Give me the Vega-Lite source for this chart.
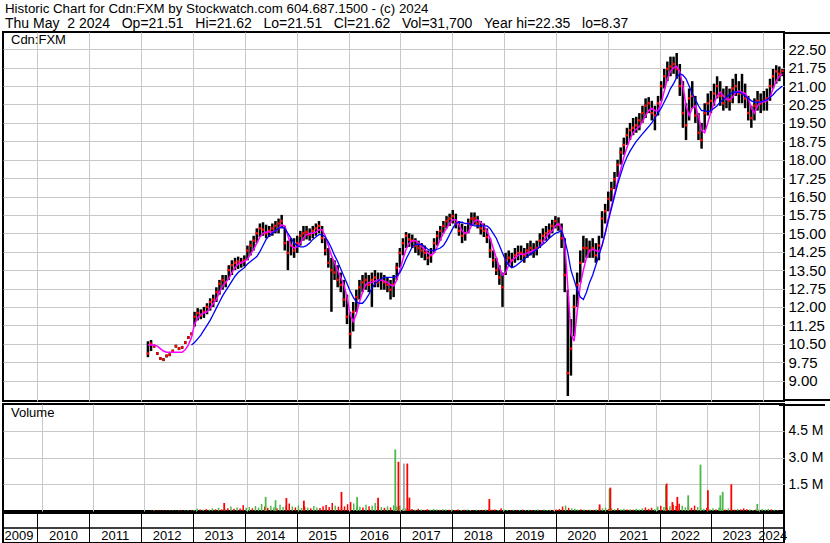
{
  "$schema": "https://vega.github.io/schema/vega-lite/v6.json",
  "padding": {"left": 1, "top": 1, "right": 0, "bottom": 0},
  "background": "white",
  "spacing": 0,
  "title": {
    "text": "Historic Chart for Cdn:FXM by Stockwatch.com 604.687.1500 - (c) 2024",
    "subtitle": "Thu May\u00a0\u00a02 2024\u00a0\u00a0\u00a0Op=21.51\u00a0\u00a0\u00a0Hi=21.62\u00a0\u00a0\u00a0Lo=21.51\u00a0\u00a0\u00a0Cl=21.62\u00a0\u00a0\u00a0Vol=31,700\u00a0\u00a0\u00a0Year hi=22.35\u00a0\u00a0\u00a0lo=8.37",
    "anchor": "start", "frame": "group", "fontSize": 13.3, "fontWeight": "normal", "font": "Liberation Sans",
    "subtitleFontSize": 14, "subtitleFont": "Liberation Sans", "subtitleColor": "black", "subtitlePadding": 2,
    "offset": 0, "dx": 2, "color": "black"
  },
  "datasets": {
    "px": [
      {"t":2012.13,"h":10.6,"l":9.95,"c":10.1,"m":10.45,"v":30000,"k":"d"},
      {"t":2012.19,"h":10.65,"l":10.2,"c":10.5,"m":10.45,"v":45000,"k":"u"},
      {"t":2012.25,"h":10.46,"l":10.34,"c":10.4,"m":10.45,"v":25000,"k":"d"},
      {"t":2012.31,"h":10.16,"l":10.04,"c":10.1,"m":10.4,"v":35000,"k":"d"},
      {"t":2012.37,"h":9.96,"l":9.84,"c":9.9,"m":10.3,"v":20000,"k":"u"},
      {"t":2012.43,"h":9.91,"l":9.79,"c":9.85,"m":10.2,"v":40000,"k":"d"},
      {"t":2012.49,"h":10.06,"l":9.94,"c":10.0,"m":10.15,"v":25000,"k":"u"},
      {"t":2012.55,"h":10.11,"l":9.99,"c":10.05,"m":10.15,"v":30000,"k":"u"},
      {"t":2012.61,"h":10.26,"l":10.14,"c":10.2,"m":10.15,"v":20000,"k":"d"},
      {"t":2012.67,"h":10.46,"l":10.34,"c":10.4,"m":10.15,"v":35000,"k":"u"},
      {"t":2012.73,"h":10.36,"l":10.24,"c":10.3,"m":10.15,"v":25000,"k":"d"},
      {"t":2012.79,"h":10.41,"l":10.29,"c":10.35,"m":10.15,"v":30000,"k":"u"},
      {"t":2012.85,"h":10.61,"l":10.49,"c":10.55,"m":10.25,"v":40000,"k":"u"},
      {"t":2012.91,"h":10.81,"l":10.69,"c":10.75,"m":10.45,"v":35000,"k":"d"},
      {"t":2012.97,"h":10.96,"l":10.84,"c":10.9,"m":10.75,"b":10.45,"v":50000,"k":"u"},
      {"t":2013.03,"h":11.8,"l":11.2,"c":11.6,"m":11.3,"b":10.55,"v":120000,"k":"u"},
      {"t":2013.09,"h":11.95,"l":11.45,"c":11.75,"m":11.55,"b":10.7,"v":90000,"k":"d"},
      {"t":2013.15,"h":11.9,"l":11.5,"c":11.65,"m":11.7,"b":10.85,"v":70000,"k":"u"},
      {"t":2013.21,"h":12.0,"l":11.55,"c":11.8,"m":11.75,"b":11.05,"v":110000,"k":"d"},
      {"t":2013.27,"h":12.15,"l":11.7,"c":12.0,"m":11.8,"b":11.25,"v":80000,"k":"u"},
      {"t":2013.33,"h":12.35,"l":11.85,"c":12.2,"m":11.95,"b":11.45,"v":150000,"k":"u"},
      {"t":2013.39,"h":12.5,"l":12.0,"c":12.3,"m":12.15,"b":11.7,"v":100000,"k":"d"},
      {"t":2013.45,"h":12.8,"l":12.2,"c":12.6,"m":12.3,"b":11.95,"v":180000,"k":"u"},
      {"t":2013.51,"h":13.1,"l":12.5,"c":12.95,"m":12.6,"b":12.2,"v":90000,"k":"d"},
      {"t":2013.57,"h":13.3,"l":12.7,"c":13.1,"m":12.85,"b":12.45,"v":130000,"k":"u"},
      {"t":2013.63,"h":13.3,"l":12.8,"c":13.0,"m":13.0,"b":12.65,"v":160000,"k":"d"},
      {"t":2013.69,"h":13.7,"l":13.1,"c":13.5,"m":13.15,"b":12.85,"v":250000,"k":"u"},
      {"t":2013.75,"h":13.9,"l":13.3,"c":13.7,"m":13.4,"b":13.05,"v":120000,"k":"d"},
      {"t":2013.81,"h":14.0,"l":13.5,"c":13.8,"m":13.6,"b":13.25,"v":200000,"k":"u"},
      {"t":2013.87,"h":14.05,"l":13.55,"c":13.85,"m":13.75,"b":13.4,"v":140000,"k":"d"},
      {"t":2013.93,"h":14.0,"l":13.6,"c":13.8,"m":13.8,"b":13.5,"v":320000,"k":"d"},
      {"t":2013.99,"h":14.1,"l":13.65,"c":13.9,"m":13.85,"b":13.6,"v":180000,"k":"u"},
      {"t":2014.05,"h":14.5,"l":13.9,"c":14.3,"m":13.95,"b":13.75,"v":220000,"k":"u"},
      {"t":2014.11,"h":14.7,"l":14.1,"c":14.5,"m":14.15,"b":13.85,"v":150000,"k":"d"},
      {"t":2014.17,"h":14.9,"l":14.3,"c":14.7,"m":14.35,"b":13.95,"v":280000,"k":"u"},
      {"t":2014.23,"h":15.2,"l":14.6,"c":15.0,"m":14.6,"b":14.05,"v":190000,"k":"u"},
      {"t":2014.29,"h":15.4,"l":14.85,"c":15.2,"m":14.85,"b":14.25,"v":400000,"k":"u"},
      {"t":2014.35,"h":15.45,"l":14.9,"c":15.15,"m":15.0,"b":14.5,"v":250000,"k":"d"},
      {"t":2014.41,"h":15.35,"l":14.8,"c":15.0,"m":15.05,"b":14.75,"v":180000,"k":"d"},
      {"t":2014.47,"h":15.3,"l":14.85,"c":15.1,"m":15.05,"b":14.9,"v":300000,"k":"u"},
      {"t":2014.53,"h":15.4,"l":14.9,"c":15.2,"m":15.05,"b":15.0,"v":210000,"k":"u"},
      {"t":2014.59,"h":15.5,"l":15.0,"c":15.3,"m":15.1,"b":15.1,"v":160000,"k":"d"},
      {"t":2014.65,"h":15.6,"l":15.0,"c":15.4,"m":15.2,"b":15.2,"v":350000,"k":"u"},
      {"t":2014.71,"h":15.75,"l":15.2,"c":15.5,"m":15.35,"b":15.25,"v":230000,"k":"u"},
      {"t":2014.77,"h":15.3,"l":14.3,"c":14.6,"m":15.3,"b":15.2,"v":300000,"k":"d"},
      {"t":2014.83,"h":14.7,"l":13.5,"c":14.2,"m":14.9,"b":15.0,"v":420000,"k":"d"},
      {"t":2014.89,"h":14.8,"l":14.1,"c":14.5,"m":14.5,"b":14.8,"v":260000,"k":"u"},
      {"t":2014.95,"h":14.8,"l":14.0,"c":14.3,"m":14.4,"b":14.6,"v":200000,"k":"d"},
      {"t":2015.01,"h":14.9,"l":14.2,"c":14.6,"m":14.45,"b":14.5,"v":310000,"k":"u"},
      {"t":2015.07,"h":15.1,"l":14.5,"c":14.9,"m":14.6,"b":14.45,"v":170000,"k":"u"},
      {"t":2015.13,"h":15.3,"l":14.7,"c":15.0,"m":14.8,"b":14.45,"v":240000,"k":"d"},
      {"t":2015.19,"h":15.3,"l":14.75,"c":15.05,"m":14.95,"b":14.5,"v":190000,"k":"u"},
      {"t":2015.25,"h":15.2,"l":14.7,"c":14.95,"m":15.0,"b":14.6,"v":150000,"k":"d"},
      {"t":2015.31,"h":15.3,"l":14.8,"c":15.1,"m":15.0,"b":14.75,"v":280000,"k":"u"},
      {"t":2015.37,"h":15.4,"l":14.9,"c":15.2,"m":15.05,"b":14.85,"v":200000,"k":"u"},
      {"t":2015.43,"h":15.5,"l":15.0,"c":15.3,"m":15.15,"b":14.95,"v":170000,"k":"d"},
      {"t":2015.49,"h":15.3,"l":14.6,"c":14.8,"m":15.15,"b":14.95,"v":260000,"k":"d"},
      {"t":2015.55,"h":14.8,"l":14.1,"c":14.3,"m":14.9,"b":14.85,"v":340000,"k":"d"},
      {"t":2015.61,"h":14.4,"l":13.6,"c":13.8,"m":14.5,"b":14.65,"v":220000,"k":"d"},
      {"t":2015.67,"h":14.0,"l":11.8,"c":13.5,"m":14.1,"b":14.4,"v":450000,"k":"d"},
      {"t":2015.73,"h":13.9,"l":13.1,"c":13.4,"m":13.8,"b":14.1,"v":300000,"k":"u"},
      {"t":2015.79,"h":13.7,"l":12.8,"c":13.1,"m":13.5,"b":13.85,"v":240000,"k":"d"},
      {"t":2015.85,"h":13.4,"l":12.6,"c":12.9,"m":13.2,"b":13.55,"v":180000,"k":"u"},
      {"t":2015.91,"h":13.1,"l":12.0,"c":12.3,"m":12.9,"b":13.25,"v":260000,"k":"d"},
      {"t":2015.97,"h":12.5,"l":11.3,"c":11.6,"m":12.4,"b":12.95,"v":380000,"k":"d"},
      {"t":2016.03,"h":11.8,"l":10.3,"c":10.9,"m":11.7,"b":12.65,"v":500000,"k":"d"},
      {"t":2016.09,"h":12.2,"l":11.0,"c":11.8,"m":11.4,"b":12.4,"v":420000,"k":"u"},
      {"t":2016.15,"h":12.7,"l":11.8,"c":12.4,"m":11.7,"b":12.2,"v":300000,"k":"u"},
      {"t":2016.21,"h":13.1,"l":12.3,"c":12.8,"m":12.2,"b":12.15,"v":240000,"k":"u"},
      {"t":2016.27,"h":13.3,"l":12.6,"c":13.0,"m":12.6,"b":12.15,"v":200000,"k":"d"},
      {"t":2016.33,"h":13.4,"l":12.7,"c":13.1,"m":12.9,"b":12.3,"v":350000,"k":"u"},
      {"t":2016.39,"h":13.3,"l":12.6,"c":12.9,"m":13.0,"b":12.5,"v":260000,"k":"d"},
      {"t":2016.45,"h":13.4,"l":12.0,"c":13.1,"m":13.0,"b":12.75,"v":300000,"k":"u"},
      {"t":2016.51,"h":13.5,"l":12.8,"c":13.2,"m":13.05,"b":12.95,"v":450000,"k":"u"},
      {"t":2016.57,"h":13.4,"l":12.8,"c":13.0,"m":13.1,"b":13.05,"v":280000,"k":"d"},
      {"t":2016.63,"h":13.4,"l":12.7,"c":13.1,"m":13.1,"b":13.15,"v":220000,"k":"u"},
      {"t":2016.69,"h":13.3,"l":12.7,"c":13.0,"m":13.05,"b":13.2,"v":180000,"k":"d"},
      {"t":2016.75,"h":13.2,"l":12.6,"c":12.9,"m":13.0,"b":13.2,"v":260000,"k":"u"},
      {"t":2016.81,"h":13.1,"l":12.3,"c":12.7,"m":12.9,"b":13.2,"v":200000,"k":"d"},
      {"t":2016.87,"h":13.3,"l":12.4,"c":12.9,"m":12.85,"b":13.2,"v":320000,"k":"u"},
      {"t":2016.93,"h":13.8,"l":13.1,"c":13.6,"m":13.1,"b":13.25,"v":250000,"k":"u"},
      {"t":2016.99,"h":14.4,"l":13.6,"c":14.2,"m":13.5,"b":13.4,"v":300000,"k":"u"},
      {"t":2017.05,"h":14.8,"l":14.1,"c":14.6,"m":13.95,"b":13.65,"v":120000,"k":"u"},
      {"t":2017.11,"h":15.05,"l":14.4,"c":14.9,"m":14.35,"b":13.95,"v":150000,"k":"u"},
      {"t":2017.17,"h":15.0,"l":14.45,"c":14.75,"m":14.6,"b":14.2,"v":90000,"k":"d"},
      {"t":2017.23,"h":14.95,"l":14.4,"c":14.7,"m":14.7,"b":14.45,"v":110000,"k":"d"},
      {"t":2017.29,"h":14.8,"l":14.2,"c":14.5,"m":14.7,"b":14.55,"v":70000,"k":"u"},
      {"t":2017.35,"h":14.7,"l":14.1,"c":14.4,"m":14.6,"b":14.55,"v":130000,"k":"d"},
      {"t":2017.41,"h":14.6,"l":14.0,"c":14.3,"m":14.45,"b":14.55,"v":80000,"k":"u"},
      {"t":2017.47,"h":14.5,"l":13.9,"c":14.2,"m":14.35,"b":14.45,"v":60000,"k":"d"},
      {"t":2017.53,"h":14.3,"l":13.7,"c":14.0,"m":14.2,"b":14.35,"v":100000,"k":"d"},
      {"t":2017.59,"h":14.4,"l":13.8,"c":14.1,"m":14.1,"b":14.3,"v":70000,"k":"u"},
      {"t":2017.65,"h":14.8,"l":14.2,"c":14.6,"m":14.2,"b":14.3,"v":120000,"k":"u"},
      {"t":2017.71,"h":15.1,"l":14.5,"c":14.9,"m":14.45,"b":14.35,"v":90000,"k":"u"},
      {"t":2017.77,"h":15.3,"l":14.7,"c":15.1,"m":14.75,"b":14.4,"v":60000,"k":"d"},
      {"t":2017.83,"h":15.5,"l":15.0,"c":15.3,"m":15.0,"b":14.5,"v":100000,"k":"u"},
      {"t":2017.89,"h":15.7,"l":15.2,"c":15.5,"m":15.2,"b":14.7,"v":80000,"k":"u"},
      {"t":2017.95,"h":15.8,"l":15.3,"c":15.6,"m":15.4,"b":14.95,"v":70000,"k":"d"},
      {"t":2018.01,"h":15.95,"l":15.4,"c":15.7,"m":15.55,"b":15.2,"v":90000,"k":"u"},
      {"t":2018.07,"h":15.8,"l":15.2,"c":15.4,"m":15.55,"b":15.4,"v":60000,"k":"d"},
      {"t":2018.13,"h":15.5,"l":14.9,"c":15.1,"m":15.35,"b":15.45,"v":80000,"k":"d"},
      {"t":2018.19,"h":15.4,"l":14.6,"c":14.9,"m":15.1,"b":15.45,"v":50000,"k":"u"},
      {"t":2018.25,"h":15.3,"l":14.7,"c":15.0,"m":15.0,"b":15.4,"v":70000,"k":"d"},
      {"t":2018.31,"h":15.6,"l":15.0,"c":15.4,"m":15.05,"b":15.4,"v":90000,"k":"u"},
      {"t":2018.37,"h":15.85,"l":15.3,"c":15.6,"m":15.3,"b":15.35,"v":60000,"k":"u"},
      {"t":2018.43,"h":15.85,"l":15.35,"c":15.6,"m":15.5,"b":15.3,"v":40000,"k":"d"},
      {"t":2018.49,"h":15.7,"l":15.2,"c":15.4,"m":15.55,"b":15.3,"v":70000,"k":"u"},
      {"t":2018.55,"h":15.5,"l":14.95,"c":15.2,"m":15.45,"b":15.3,"v":50000,"k":"d"},
      {"t":2018.61,"h":15.4,"l":14.85,"c":15.1,"m":15.3,"b":15.3,"v":60000,"k":"d"},
      {"t":2018.67,"h":15.2,"l":14.6,"c":14.85,"m":15.1,"b":15.3,"v":80000,"k":"u"},
      {"t":2018.73,"h":14.8,"l":14.0,"c":14.3,"m":14.8,"b":15.2,"v":100000,"k":"d"},
      {"t":2018.79,"h":14.3,"l":13.6,"c":13.9,"m":14.4,"b":15.0,"v":70000,"k":"d"},
      {"t":2018.85,"h":14.0,"l":13.3,"c":13.5,"m":14.0,"b":14.8,"v":90000,"k":"d"},
      {"t":2018.91,"h":13.7,"l":12.9,"c":13.2,"m":13.6,"b":14.5,"v":60000,"k":"u"},
      {"t":2018.97,"h":13.4,"l":12.0,"c":12.8,"m":13.3,"b":14.2,"v":150000,"k":"d"},
      {"t":2019.03,"h":14.2,"l":13.3,"c":13.9,"m":13.4,"b":13.9,"v":80000,"k":"u"},
      {"t":2019.09,"h":14.3,"l":13.7,"c":14.0,"m":13.7,"b":13.7,"v":60000,"k":"u"},
      {"t":2019.15,"h":14.2,"l":13.6,"c":13.9,"m":13.9,"b":13.6,"v":50000,"k":"d"},
      {"t":2019.21,"h":14.4,"l":13.8,"c":14.1,"m":14.0,"b":13.65,"v":70000,"k":"u"},
      {"t":2019.27,"h":14.5,"l":13.9,"c":14.2,"m":14.1,"b":13.75,"v":40000,"k":"d"},
      {"t":2019.33,"h":14.5,"l":13.9,"c":14.2,"m":14.15,"b":13.85,"v":60000,"k":"u"},
      {"t":2019.39,"h":14.4,"l":13.8,"c":14.1,"m":14.15,"b":13.95,"v":80000,"k":"d"},
      {"t":2019.45,"h":14.6,"l":14.0,"c":14.3,"m":14.2,"b":14.05,"v":50000,"k":"u"},
      {"t":2019.51,"h":14.7,"l":14.1,"c":14.4,"m":14.25,"b":14.15,"v":70000,"k":"u"},
      {"t":2019.57,"h":14.6,"l":14.0,"c":14.3,"m":14.3,"b":14.25,"v":60000,"k":"d"},
      {"t":2019.63,"h":14.7,"l":14.1,"c":14.4,"m":14.35,"b":14.35,"v":40000,"k":"u"},
      {"t":2019.69,"h":15.0,"l":14.4,"c":14.7,"m":14.45,"b":14.45,"v":80000,"k":"u"},
      {"t":2019.75,"h":15.2,"l":14.6,"c":14.9,"m":14.65,"b":14.55,"v":60000,"k":"d"},
      {"t":2019.81,"h":15.3,"l":14.7,"c":15.0,"m":14.85,"b":14.65,"v":90000,"k":"u"},
      {"t":2019.87,"h":15.4,"l":14.8,"c":15.1,"m":15.0,"b":14.8,"v":50000,"k":"u"},
      {"t":2019.93,"h":15.55,"l":15.0,"c":15.3,"m":15.1,"b":14.9,"v":70000,"k":"u"},
      {"t":2019.99,"h":15.7,"l":15.2,"c":15.5,"m":15.3,"b":15.0,"v":60000,"k":"d"},
      {"t":2020.05,"h":15.65,"l":15.1,"c":15.35,"m":15.4,"b":15.05,"v":80000,"k":"d"},
      {"t":2020.11,"h":15.4,"l":14.4,"c":14.8,"m":15.2,"b":15.1,"v":120000,"k":"d"},
      {"t":2020.17,"h":14.8,"l":12.6,"c":13.3,"m":14.6,"b":14.75,"v":250000,"k":"d"},
      {"t":2020.23,"h":12.7,"l":8.37,"c":9.3,"m":12.8,"b":14.2,"v":300000,"k":"u"},
      {"t":2020.29,"h":11.5,"l":9.2,"c":10.3,"m":10.9,"b":13.5,"v":180000,"k":"d"},
      {"t":2020.35,"h":12.5,"l":10.8,"c":12.0,"m":10.6,"b":13.1,"v":150000,"k":"u"},
      {"t":2020.41,"h":13.4,"l":12.0,"c":12.9,"m":11.8,"b":12.7,"v":120000,"k":"u"},
      {"t":2020.47,"h":14.3,"l":13.0,"c":13.8,"m":12.9,"b":12.4,"v":90000,"k":"u"},
      {"t":2020.53,"h":14.9,"l":13.8,"c":14.4,"m":13.5,"b":12.3,"v":100000,"k":"d"},
      {"t":2020.59,"h":14.8,"l":14.0,"c":14.4,"m":14.0,"b":12.6,"v":80000,"k":"u"},
      {"t":2020.65,"h":14.7,"l":14.0,"c":14.3,"m":14.3,"b":13.0,"v":60000,"k":"d"},
      {"t":2020.71,"h":14.8,"l":14.0,"c":14.4,"m":14.35,"b":13.3,"v":70000,"k":"u"},
      {"t":2020.77,"h":14.6,"l":13.8,"c":14.1,"m":14.3,"b":13.7,"v":60000,"k":"d"},
      {"t":2020.83,"h":14.9,"l":13.9,"c":14.5,"m":14.25,"b":14.1,"v":90000,"k":"u"},
      {"t":2020.89,"h":15.9,"l":14.8,"c":15.6,"m":14.5,"b":14.5,"v":200000,"k":"u"},
      {"t":2020.95,"h":16.2,"l":15.4,"c":15.9,"m":15.0,"b":15.0,"v":150000,"k":"u"},
      {"t":2021.01,"h":16.7,"l":15.9,"c":16.4,"m":15.6,"b":15.5,"v":180000,"k":"u"},
      {"t":2021.07,"h":17.1,"l":16.3,"c":16.8,"m":16.1,"b":16.0,"v":120000,"k":"d"},
      {"t":2021.13,"h":17.5,"l":16.8,"c":17.2,"m":16.6,"b":16.5,"v":140000,"k":"u"},
      {"t":2021.19,"h":18.0,"l":17.3,"c":17.8,"m":17.1,"b":17.0,"v":100000,"k":"u"},
      {"t":2021.25,"h":18.5,"l":17.8,"c":18.3,"m":17.6,"b":17.4,"v":160000,"k":"d"},
      {"t":2021.31,"h":18.9,"l":18.2,"c":18.6,"m":18.1,"b":17.8,"v":90000,"k":"u"},
      {"t":2021.37,"h":19.3,"l":18.6,"c":19.0,"m":18.5,"b":18.1,"v":120000,"k":"u"},
      {"t":2021.43,"h":19.5,"l":18.8,"c":19.2,"m":18.85,"b":18.35,"v":80000,"k":"d"},
      {"t":2021.49,"h":19.7,"l":19.0,"c":19.3,"m":19.1,"b":18.55,"v":100000,"k":"u"},
      {"t":2021.55,"h":19.75,"l":19.1,"c":19.4,"m":19.25,"b":18.75,"v":70000,"k":"d"},
      {"t":2021.61,"h":19.9,"l":19.2,"c":19.6,"m":19.35,"b":18.9,"v":130000,"k":"u"},
      {"t":2021.67,"h":20.2,"l":19.5,"c":19.9,"m":19.55,"b":19.05,"v":90000,"k":"u"},
      {"t":2021.73,"h":20.5,"l":19.7,"c":20.2,"m":19.8,"b":19.2,"v":150000,"k":"u"},
      {"t":2021.79,"h":20.55,"l":19.9,"c":20.3,"m":20.0,"b":19.35,"v":200000,"k":"d"},
      {"t":2021.85,"h":20.4,"l":19.6,"c":19.9,"m":20.1,"b":19.5,"v":120000,"k":"d"},
      {"t":2021.91,"h":20.2,"l":19.2,"c":19.8,"m":20.0,"b":19.7,"v":180000,"k":"d"},
      {"t":2021.97,"h":20.6,"l":19.8,"c":20.3,"m":20.0,"b":19.9,"v":110000,"k":"u"},
      {"t":2022.03,"h":21.2,"l":20.4,"c":21.0,"m":20.3,"b":20.1,"v":250000,"k":"u"},
      {"t":2022.09,"h":21.7,"l":20.9,"c":21.4,"m":20.8,"b":20.35,"v":300000,"k":"d"},
      {"t":2022.15,"h":22.0,"l":21.2,"c":21.7,"m":21.3,"b":20.6,"v":220000,"k":"u"},
      {"t":2022.21,"h":22.2,"l":21.4,"c":21.8,"m":21.6,"b":20.9,"v":180000,"k":"d"},
      {"t":2022.27,"h":22.2,"l":21.5,"c":21.9,"m":21.75,"b":21.1,"v":260000,"k":"u"},
      {"t":2022.33,"h":22.35,"l":21.3,"c":21.7,"m":21.8,"b":21.35,"v":350000,"k":"d"},
      {"t":2022.39,"h":21.9,"l":20.6,"c":21.0,"m":21.6,"b":21.5,"v":280000,"k":"d"},
      {"t":2022.45,"h":21.2,"l":19.3,"c":19.9,"m":21.0,"b":21.45,"v":400000,"k":"d"},
      {"t":2022.51,"h":20.3,"l":18.8,"c":19.4,"m":20.2,"b":21.3,"v":300000,"k":"u"},
      {"t":2022.57,"h":20.9,"l":19.6,"c":20.5,"m":19.8,"b":21.0,"v":200000,"k":"u"},
      {"t":2022.63,"h":21.2,"l":20.1,"c":20.6,"m":20.1,"b":20.7,"v":250000,"k":"d"},
      {"t":2022.69,"h":20.6,"l":19.5,"c":19.8,"m":20.2,"b":20.45,"v":180000,"k":"d"},
      {"t":2022.75,"h":19.9,"l":18.8,"c":19.1,"m":19.8,"b":20.2,"v":300000,"k":"d"},
      {"t":2022.81,"h":19.5,"l":18.45,"c":18.8,"m":19.2,"b":20.0,"v":220000,"k":"u"},
      {"t":2022.87,"h":20.3,"l":19.2,"c":19.9,"m":19.1,"b":20.0,"v":150000,"k":"u"},
      {"t":2022.93,"h":20.7,"l":19.8,"c":20.3,"m":19.5,"b":19.95,"v":120000,"k":"u"},
      {"t":2022.99,"h":20.8,"l":19.9,"c":20.4,"m":19.95,"b":20.0,"v":180000,"k":"d"},
      {"t":2023.05,"h":21.1,"l":20.2,"c":20.7,"m":20.3,"b":20.1,"v":100000,"k":"u"},
      {"t":2023.11,"h":21.4,"l":20.5,"c":21.0,"m":20.6,"b":20.2,"v":150000,"k":"u"},
      {"t":2023.17,"h":21.2,"l":20.2,"c":20.6,"m":20.75,"b":20.35,"v":90000,"k":"d"},
      {"t":2023.23,"h":20.9,"l":20.0,"c":20.3,"m":20.6,"b":20.45,"v":200000,"k":"u"},
      {"t":2023.29,"h":21.0,"l":20.1,"c":20.5,"m":20.45,"b":20.55,"v":120000,"k":"u"},
      {"t":2023.35,"h":20.9,"l":20.0,"c":20.4,"m":20.45,"b":20.65,"v":80000,"k":"d"},
      {"t":2023.41,"h":21.3,"l":20.3,"c":20.9,"m":20.55,"b":20.75,"v":150000,"k":"u"},
      {"t":2023.47,"h":21.5,"l":20.6,"c":21.0,"m":20.75,"b":20.75,"v":100000,"k":"u"},
      {"t":2023.53,"h":21.2,"l":20.3,"c":20.7,"m":20.8,"b":20.75,"v":70000,"k":"d"},
      {"t":2023.59,"h":21.5,"l":20.3,"c":20.7,"m":20.75,"b":20.7,"v":120000,"k":"u"},
      {"t":2023.65,"h":21.1,"l":20.1,"c":20.5,"m":20.7,"b":20.6,"v":90000,"k":"d"},
      {"t":2023.71,"h":20.6,"l":19.6,"c":19.9,"m":20.5,"b":20.5,"v":150000,"k":"d"},
      {"t":2023.77,"h":20.2,"l":19.3,"c":19.7,"m":20.1,"b":20.4,"v":100000,"k":"d"},
      {"t":2023.83,"h":20.5,"l":19.6,"c":20.2,"m":19.9,"b":20.35,"v":80000,"k":"u"},
      {"t":2023.89,"h":20.8,"l":20.0,"c":20.4,"m":20.2,"b":20.35,"v":60000,"k":"u"},
      {"t":2023.95,"h":20.7,"l":19.9,"c":20.3,"m":20.35,"b":20.35,"v":90000,"k":"d"},
      {"t":2024.01,"h":20.8,"l":20.0,"c":20.4,"m":20.35,"b":20.4,"v":70000,"k":"u"},
      {"t":2024.07,"h":20.9,"l":20.0,"c":20.5,"m":20.4,"b":20.45,"v":110000,"k":"u"},
      {"t":2024.13,"h":21.3,"l":20.4,"c":21.0,"m":20.55,"b":20.55,"v":80000,"k":"u"},
      {"t":2024.19,"h":21.7,"l":20.9,"c":21.4,"m":20.9,"b":20.65,"v":120000,"k":"u"},
      {"t":2024.25,"h":21.85,"l":21.1,"c":21.6,"m":21.2,"b":20.8,"v":90000,"k":"d"},
      {"t":2024.31,"h":21.8,"l":21.2,"c":21.5,"m":21.4,"b":20.9,"v":70000,"k":"u"},
      {"t":2024.37,"h":21.7,"l":21.4,"c":21.62,"m":21.5,"b":21.0,"v":31700,"k":"u"}
    ],
    "sp": [
      {"t":2013.559,"v":450000,"k":"d"},
      {"t":2014.369,"v":790000,"k":"u"},
      {"t":2014.562,"v":600000,"k":"u"},
      {"t":2014.774,"v":730000,"k":"d"},
      {"t":2015.116,"v":580000,"k":"d"},
      {"t":2015.851,"v":1070000,"k":"d"},
      {"t":2016.157,"v":790000,"k":"u"},
      {"t":2016.566,"v":750000,"k":"d"},
      {"t":2016.902,"v":3450000,"k":"u"},
      {"t":2016.964,"v":2760000,"k":"d"},
      {"t":2017.07,"v":2660000,"k":"n"},
      {"t":2017.137,"v":2660000,"k":"d"},
      {"t":2017.178,"v":750000,"k":"d"},
      {"t":2018.74,"v":670000,"k":"d"},
      {"t":2020.895,"v":370000,"k":"d"},
      {"t":2021.09,"v":1250000,"k":"u"},
      {"t":2021.105,"v":1310000,"k":"d"},
      {"t":2022.19,"v":1450000,"k":"u"},
      {"t":2022.205,"v":1540000,"k":"d"},
      {"t":2022.317,"v":500000,"k":"d"},
      {"t":2022.413,"v":790000,"k":"d"},
      {"t":2022.626,"v":880000,"k":"u"},
      {"t":2022.866,"v":2600000,"k":"u"},
      {"t":2023.011,"v":1160000,"k":"d"},
      {"t":2023.254,"v":880000,"k":"u"},
      {"t":2023.3,"v":1070000,"k":"u"},
      {"t":2023.468,"v":1500000,"k":"d"},
      {"t":2023.976,"v":400000,"k":"u"}
    ],
    "yr": [
      {"t":2009.643,"yr":"2009"},{"t":2010.5,"yr":"2010"},{"t":2011.5,"yr":"2011"},{"t":2012.5,"yr":"2012"},
      {"t":2013.5,"yr":"2013"},{"t":2014.5,"yr":"2014"},{"t":2015.5,"yr":"2015"},{"t":2016.5,"yr":"2016"},
      {"t":2017.5,"yr":"2017"},{"t":2018.5,"yr":"2018"},{"t":2019.5,"yr":"2019"},{"t":2020.5,"yr":"2020"},
      {"t":2021.5,"yr":"2021"},{"t":2022.5,"yr":"2022"},{"t":2023.494,"yr":"2023"},{"t":2024.183,"yr":"2024"}
    ]
  },
  "vconcat": [
    {
      "width": 781,
      "height": 369,
      "title": {"text": "Cdn:FXM", "subtitle": "", "anchor": "start", "offset": -15, "fontSize": 13, "fontWeight": "normal", "font": "Liberation Sans", "dx": 8, "color": "black"},
      "data": {"name": "px"},
      "layer": [
        {
          "mark": {"type": "rule", "color": "black", "strokeWidth": 2.5, "clip": true},
          "encoding": {
            "x": {"field": "t", "type": "quantitative",
                  "scale": {"domain": [2009.3345, 2024.4], "nice": false, "zero": false},
                  "axis": {"values": [2010,2011,2012,2013,2014,2015,2016,2017,2018,2019,2020,2021,2022,2023,2024], "tickCount": 40, "grid": true, "labels": false, "ticks": false, "domain": false, "title": null}},
            "y": {"field": "l", "type": "quantitative",
                  "scale": {"domain": [8.165, 23.205], "nice": false, "zero": false},
                  "axis": {"orient": "right", "values": [9,9.75,10.5,11.25,12,12.75,13.5,14.25,15,15.75,16.5,17.25,18,18.75,19.5,20.25,21,21.75,22.5], "tickCount": 40, "format": ".2f", "grid": true, "ticks": false, "domain": false, "labelPadding": 4, "labelFontSize": 15, "labelOverlap": false, "title": null}},
            "y2": {"field": "h"}
          }
        },
        {
          "mark": {"type": "square", "color": "#ff0000", "size": 6, "opacity": 1, "clip": true},
          "encoding": {"x": {"field": "t", "type": "quantitative"}, "y": {"field": "c", "type": "quantitative"}}
        },
        {
          "mark": {"type": "line", "color": "#ff00ff", "strokeWidth": 1.5, "clip": true},
          "encoding": {"x": {"field": "t", "type": "quantitative"}, "y": {"field": "m", "type": "quantitative"}}
        },
        {
          "mark": {"type": "line", "color": "#0000ff", "strokeWidth": 1.3, "clip": true},
          "encoding": {"x": {"field": "t", "type": "quantitative"}, "y": {"field": "b", "type": "quantitative"}}
        },
        {
          "data": {"values": [{"edge": "top"}]},
          "mark": {"type": "rule", "color": "black", "strokeWidth": 2, "clip": false},
          "encoding": {"x": {"datum": 2024.4, "type": "quantitative"}, "x2": {"datum": 2025.3}, "y": {"datum": 23.164, "type": "quantitative"}}
        },
        {
          "data": {"values": [{"edge": "bottom"}]},
          "mark": {"type": "rule", "color": "black", "strokeWidth": 2, "clip": false},
          "encoding": {"x": {"datum": 2024.4, "type": "quantitative"}, "x2": {"datum": 2025.3}, "y": {"datum": 8.206, "type": "quantitative"}}
        }
      ]
    },
    {
      "width": 781,
      "height": 107,
      "title": {"text": "Volume", "subtitle": "", "anchor": "start", "offset": -16, "fontSize": 13, "fontWeight": "normal", "font": "Liberation Sans", "dx": 8, "color": "black"},
      "layer": [
        {
          "data": {"name": "px"},
          "mark": {"type": "bar", "width": 1.5},
          "encoding": {
            "x": {"field": "t", "type": "quantitative",
                  "scale": {"domain": [2009.3345, 2024.4], "nice": false, "zero": false},
                  "axis": {"values": [2010,2011,2012,2013,2014,2015,2016,2017,2018,2019,2020,2021,2022,2023,2024], "tickCount": 40, "grid": true, "labels": false, "ticks": false, "domain": false, "title": null}},
            "y": {"field": "v", "type": "quantitative",
                  "scale": {"domain": [0, 6000000], "nice": false},
                  "axis": {"orient": "right", "values": [1500000, 3000000, 4500000], "tickCount": 40, "labelExpr": "format(datum.value/1000000, '.1f') + ' M'", "grid": true, "ticks": false, "domain": false, "labelPadding": 4, "labelFontSize": 14, "title": null}},
            "color": {"field": "k", "type": "nominal", "scale": {"domain": ["u", "d", "n"], "range": ["#4cb84c", "#ff0000", "#a0a0a0"]}, "legend": null}
          }
        },
        {
          "data": {"name": "sp"},
          "mark": {"type": "bar", "width": 1.8},
          "encoding": {
            "x": {"field": "t", "type": "quantitative"},
            "y": {"field": "v", "type": "quantitative"},
            "color": {"field": "k", "type": "nominal", "legend": null}
          }
        },
        {
          "data": {"values": [{"edge": "top"}]},
          "mark": {"type": "rule", "color": "black", "strokeWidth": 2, "clip": false},
          "encoding": {"x": {"datum": 2024.4, "type": "quantitative"}, "x2": {"datum": 2025.3}, "y": {"datum": 5944000, "type": "quantitative"}}
        }
      ]
    },
    {
      "width": 781,
      "height": 30,
      "layer": [
        {
          "data": {"values": [{"a": 1}]},
          "mark": {"type": "rule", "color": "black", "strokeWidth": 1.5},
          "encoding": {"y": {"datum": 0.5, "type": "quantitative", "scale": {"domain": [0, 1], "nice": false}, "axis": null}}
        },
        {
          "data": {"name": "yr"},
          "mark": {"type": "text", "fontSize": 13, "font": "Liberation Sans", "baseline": "alphabetic", "color": "black"},
          "encoding": {
            "x": {"field": "t", "type": "quantitative",
                  "scale": {"domain": [2009.3345, 2024.4], "nice": false, "zero": false},
                  "axis": {"values": [2010,2011,2012,2013,2014,2015,2016,2017,2018,2019,2020,2021,2022,2023,2024], "tickCount": 40, "grid": true, "gridColor": "black", "gridOpacity": 1, "gridWidth": 1, "labels": false, "ticks": false, "domain": false, "title": null}},
            "y": {"datum": 0.1, "type": "quantitative"},
            "text": {"field": "yr"}
          }
        }
      ]
    }
  ],
  "config": {
    "font": "Liberation Sans",
    "view": {"stroke": "black", "strokeWidth": 2},
    "axis": {"gridColor": "#c8c8c8", "gridOpacity": 1, "gridWidth": 1, "labelColor": "black", "labelFont": "Liberation Sans"},
    "title": {"color": "black"}
  }
}
